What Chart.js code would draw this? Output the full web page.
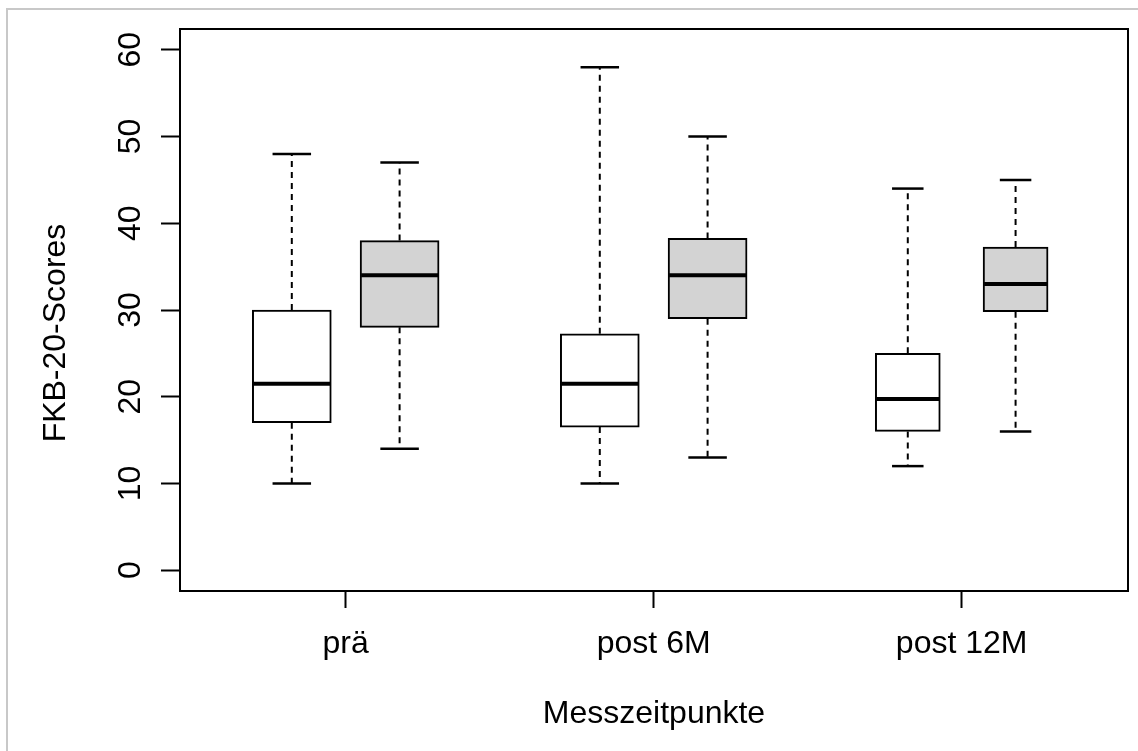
<!DOCTYPE html>
<html>
<head>
<meta charset="utf-8">
<script src="https://cdn.jsdelivr.net/npm/chart.js@4/dist/chart.umd.min.js"></script>
<style>
html, body { margin: 0; padding: 0; background: #ffffff; overflow: hidden; width: 1138px; height: 751px; }
#frame { position: absolute; left: 6px; top: 8px; width: 1300px; height: 900px; border: 2px solid #c8c8c8; box-sizing: border-box; }
#c { position: absolute; left: 0; top: 0; }
</style>
</head>
<body>
<div id="frame"></div>
<canvas id="c" width="1138" height="751"></canvas>
<script>
// ---------------- data ----------------
const categories = ["prä", "post 6M", "post 12M"];
const yTickValues = [0, 10, 20, 30, 40, 50, 60];
const xAxisTitle = "Messzeitpunkte";
const yAxisTitle = "FKB-20-Scores";

// white boxes (first box of each time point)
const whiteMin    = [10, 10, 12];
const whiteQ1     = [17, 16.5, 16];
const whiteMedian = [21.5, 21.5, 19.75];
const whiteQ3     = [30, 27.25, 25];
const whiteMax    = [48, 58, 44];

// grey boxes (second box of each time point)
const greyMin    = [14, 13, 16];
const greyQ1     = [28, 29, 29.8];
const greyMedian = [34, 34, 33];
const greyQ3     = [38, 38.25, 37.25];
const greyMax    = [47, 50, 45];

// ---------------- layout / style constants ----------------
const FONT = { family: "'Liberation Sans', Arial, sans-serif", size: 32 };
const X_MIN = 0.462, X_MAX = 3.54;
const Y_MIN = -2.4, Y_MAX = 62.4;
const OFFSET = 0.175;                 // box offset from group centre (axis units)
const BOX_PX = [79, 79, 65];          // box width per group (px, incl. border)
const WHITE = "#ffffff", GREY = "#d3d3d3";

// ---------------- build boxes ----------------
const boxes = [];
categories.forEach((c, i) => {
  boxes.push({ g: i, x: i + 1 - OFFSET, fill: WHITE, min: whiteMin[i], q1: whiteQ1[i], med: whiteMedian[i], q3: whiteQ3[i], max: whiteMax[i] });
  boxes.push({ g: i, x: i + 1 + OFFSET, fill: GREY,  min: greyMin[i],  q1: greyQ1[i],  med: greyMedian[i],  q3: greyQ3[i],  max: greyMax[i] });
});

const whiskerData = [];
boxes.forEach(b => {
  whiskerData.push({ x: b.x, y: b.q3 }, { x: b.x, y: b.max }, { x: b.x, y: null });
  whiskerData.push({ x: b.x, y: b.q1 }, { x: b.x, y: b.min }, { x: b.x, y: null });
});

const wideBoxes = boxes.filter(b => b.g < 2);
const narrowBoxes = boxes.filter(b => b.g === 2);

const barDataset = (list, thick) => ({
  type: 'bar',
  data: list.map(b => ({ x: b.x, y: [b.q1, b.q3] })),
  backgroundColor: list.map(b => b.fill),
  borderColor: '#000',
  borderWidth: 2,
  borderSkipped: false,
  barThickness: thick,
  grouped: false,
  xAxisID: 'x', yAxisID: 'y',
  order: 2
});

const datasets = [
  {
    type: 'line',
    data: whiskerData,
    borderColor: '#000',
    borderWidth: 2,
    borderDash: [6, 5],
    pointRadius: 0,
    fill: false,
    spanGaps: false,
    tension: 0,
    xAxisID: 'x', yAxisID: 'y',
    order: 3
  },
  barDataset(wideBoxes, BOX_PX[0]),
  barDataset(narrowBoxes, BOX_PX[2]),
  {
    type: 'scatter',
    data: boxes.map(b => ({ x: b.x, y: b.med })),
    pointStyle: 'line',
    pointRadius: boxes.map(b => (BOX_PX[b.g] - 2) / 2),
    pointBorderWidth: 4,
    pointBorderColor: '#000',
    pointBackgroundColor: '#000',
    xAxisID: 'x', yAxisID: 'y',
    order: 0
  },
  {
    type: 'scatter',
    data: boxes.flatMap(b => [{ x: b.x, y: b.max }, { x: b.x, y: b.min }]),
    pointStyle: 'line',
    pointRadius: boxes.flatMap(b => [(BOX_PX[b.g] - 2) / 4, (BOX_PX[b.g] - 2) / 4]),
    pointBorderWidth: 2.5,
    pointBorderColor: '#000',
    pointBackgroundColor: '#000',
    xAxisID: 'x', yAxisID: 'y',
    order: 0
  }
];

const zeroPad = s => { s.paddingTop = 0; s.paddingBottom = 0; s.paddingLeft = 0; s.paddingRight = 0; };

// y-axis title drawn beside the axis (rotated), slightly below the plot centre as in the reference
const yTitlePlugin = {
  id: 'yTitle',
  afterDraw(chart) {
    const { ctx, chartArea } = chart;
    ctx.save();
    ctx.font = `${FONT.size}px ${FONT.family}`;
    ctx.fillStyle = '#000';
    ctx.textAlign = 'center';
    ctx.textBaseline = 'middle';
    ctx.translate(56, (chartArea.top + chartArea.bottom) / 2 + 23);
    ctx.rotate(-Math.PI / 2);
    ctx.fillText(yAxisTitle, 0, 0);
    ctx.restore();
  }
};

new Chart(document.getElementById('c'), {
  type: 'bar',
  data: { datasets },
  plugins: [yTitlePlugin],
  options: {
    responsive: false,
    animation: false,
    devicePixelRatio: 1,
    events: [],
    layout: { autoPadding: false, padding: { top: 29, right: 10, left: 0, bottom: 0 } },
    plugins: { legend: { display: false }, tooltip: { enabled: false } },
    scales: {
      x: {
        type: 'linear', position: 'bottom', min: X_MIN, max: X_MAX, offset: false,
        afterBuildTicks: s => { s.ticks = categories.map((_, i) => ({ value: i + 1 })); },
        afterFit: s => { s.height = 160; zeroPad(s); },
        ticks: {
          callback: (v, i) => categories[i],
          font: FONT, color: '#000', padding: 17,
          autoSkip: false, minRotation: 0, maxRotation: 0
        },
        grid: { display: true, offset: false, drawOnChartArea: false, drawTicks: true, tickLength: 17, tickWidth: 2, tickColor: '#000', color: '#000' },
        border: { display: true, color: '#000', width: 2 },
        title: { display: true, text: xAxisTitle, font: FONT, color: '#000', padding: { top: 0, bottom: 18 } }
      },
      y: {
        type: 'linear', position: 'left', min: Y_MIN, max: Y_MAX,
        afterBuildTicks: s => { s.ticks = yTickValues.map(v => ({ value: v })); },
        afterFit: s => { s.width = 180; zeroPad(s); },
        ticks: {
          callback: v => String(v),
          font: FONT, color: '#000', padding: 12,
          minRotation: 90, maxRotation: 90, crossAlign: 'center', autoSkip: false
        },
        grid: { display: true, offset: false, drawOnChartArea: false, drawTicks: true, tickLength: 19, tickWidth: 2, tickColor: '#000', color: '#000' },
        border: { display: true, color: '#000', width: 2 },
        title: { display: false }
      },
      x2: {
        type: 'linear', position: 'top', min: 0, max: 1, display: true, offset: false,
        afterFit: s => { s.height = 0; zeroPad(s); },
        grid: { display: false, offset: false }, ticks: { display: false },
        border: { display: true, color: '#000', width: 2 }
      },
      y2: {
        type: 'linear', position: 'right', min: 0, max: 1, display: true,
        afterFit: s => { s.width = 0; zeroPad(s); },
        grid: { display: false }, ticks: { display: false },
        border: { display: true, color: '#000', width: 2 }
      }
    }
  }
});
</script>
</body>
</html>
